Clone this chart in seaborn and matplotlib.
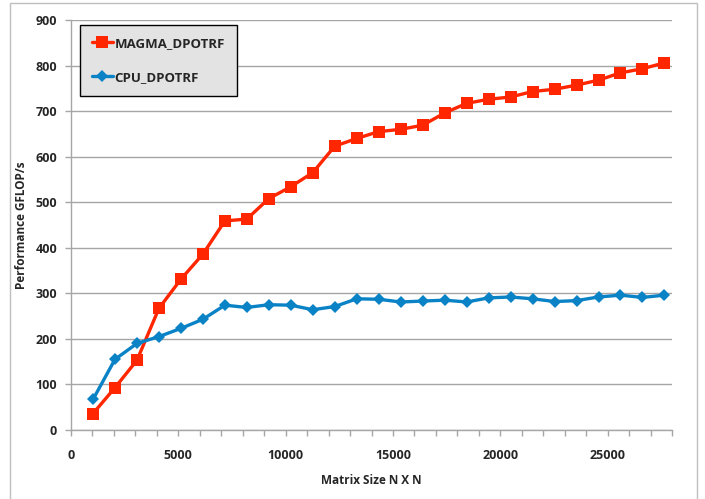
import matplotlib
matplotlib.use('Agg')
import matplotlib.pyplot as plt
import matplotlib.patches as patches
from matplotlib.ticker import MultipleLocator
import numpy as np
import pandas as pd
import seaborn as sns

# matrix sizes N (1024 steps) and measured performance
sizes = [1024 * k for k in range(1, 28)]
magma = [36, 93, 153, 267, 331, 386, 459, 463, 508, 534, 565, 623, 640,
         655, 660, 669, 696, 717, 726, 731, 743, 748, 757, 768, 784, 793, 806]
cpu = [67, 155, 190, 205, 223, 243, 274, 269, 275, 274, 264, 271, 288,
       287, 281, 283, 285, 281, 290, 292, 288, 282, 284, 292, 296, 291, 296]
series_names = ['MAGMA_DPOTRF', 'CPU_DPOTRF']

sns.set_style('white')
plt.rcParams['font.family'] = ['Open Sans', 'DejaVu Sans']

df = pd.DataFrame({'N': sizes * 2,
                   'perf': magma + cpu,
                   'routine': [series_names[0]] * len(sizes) + [series_names[1]] * len(sizes)})

fig = plt.figure(figsize=(7.05, 4.99), dpi=100)
ax = fig.add_axes([71 / 705, 1 - 430 / 499, 601 / 705, 410 / 499])

sns.lineplot(data=df, x='N', y='perf', hue='routine', style='routine',
             palette={'MAGMA_DPOTRF': '#ff2600', 'CPU_DPOTRF': '#0a82c6'},
             markers={'MAGMA_DPOTRF': 's', 'CPU_DPOTRF': 'D'},
             dashes=False, linewidth=2.4, markeredgewidth=0,
             ax=ax, legend=False)
for line in ax.lines:
    if line.get_marker() == 's':
        line.set_markersize(8)
    else:
        line.set_markersize(6.5)

ax.set_xlim(0, 28000)
ax.set_ylim(0, 900)
ax.xaxis.set_major_locator(MultipleLocator(5000))
ax.xaxis.set_minor_locator(MultipleLocator(1000))
ax.yaxis.set_major_locator(MultipleLocator(100))
ax.grid(axis='y', color='#a6a6a6', linewidth=1)
ax.set_axisbelow(True)
for s in ['top', 'right']:
    ax.spines[s].set_visible(False)
for s in ['left', 'bottom']:
    ax.spines[s].set_color('#a6a6a6')
    ax.spines[s].set_linewidth(1)
ax.tick_params(axis='both', which='both', direction='out', length=4,
               color='#a6a6a6', width=1, labelsize=9, pad=6)
ax.tick_params(axis='x', which='both', bottom=True, pad=10)
ax.tick_params(axis='y', left=True)
for lab in ax.get_xticklabels() + ax.get_yticklabels():
    lab.set_fontweight('bold')

ax.set_xlabel('Matrix Size N X N', fontsize=8.5, fontweight='bold', labelpad=8)
ax.set_ylabel('Performance GFLOP/s', fontsize=8.5, fontweight='bold', labelpad=5)

handles = ax.lines[:2]
leg = ax.legend(handles, series_names, loc='upper left',
                bbox_to_anchor=(0.015, 0.988), borderaxespad=0,
                frameon=True, fancybox=False, edgecolor='black',
                facecolor='#e3e3e3', framealpha=1, handlelength=1.6,
                handletextpad=0.1, labelspacing=1.6, borderpad=0.9,
                prop={'weight': 'bold', 'size': 9.5})
leg.get_frame().set_linewidth(1)

fig.patches.append(patches.Rectangle((10 / 705, -0.1), 687 / 705, 1.1 - 3 / 499,
                                     transform=fig.transFigure, fill=False,
                                     edgecolor='#bfbfbf', linewidth=1))

fig.savefig('out.png', dpi=100)
